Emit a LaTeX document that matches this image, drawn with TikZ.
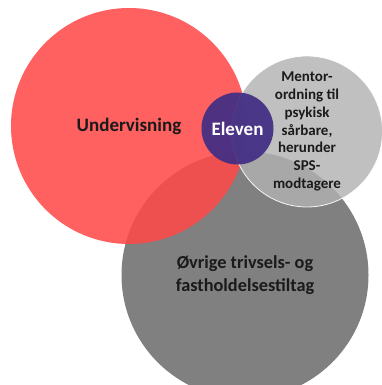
\documentclass[tikz,border=0pt]{standalone}
\usepackage{fontspec}
\setmainfont{Carlito}
\usepackage{xcolor}
\definecolor{colRed}{RGB}{255,72,72}
\definecolor{colDark}{RGB}{128,128,128}
\definecolor{colLight}{RGB}{178,178,178}
\definecolor{colPurple}{RGB}{66,46,132}
\definecolor{colText}{RGB}{26,26,26}
\usetikzlibrary{positioning}

\tikzset{
  bubble/.style={circle, inner sep=0pt, outer sep=0pt, align=center,
    text=colText, text opacity=1, font=\bfseries\fontsize{19}{23}\selectfont},
  smalltext/.style={font=\bfseries\fontsize{15}{17.9}\selectfont},
}

\begin{document}
\begin{tikzpicture}[x=1pt, y=-1pt]
    \useasboundingbox (0,0) rectangle (382,385);

    % === Store sirkler ===
    \node[bubble, fill=colDark, minimum size=247pt, font=\bfseries\fontsize{18.3}{23}\selectfont] (tiltag) at (245,275)
        {Øvrige trivsels- og\\fastholdelsestiltag};
    \node[bubble, fill=colRed, fill opacity=0.87, minimum size=236pt] (undervisning) at (129,126)
        {Undervisning};

    % === Mentorordning ===
    \node[bubble, smalltext, fill=colLight, fill opacity=0.82, draw=white, draw opacity=0.9,
          line width=0.8pt, minimum size=151pt] (mentor) at (307,131.5)
        {Mentor-\\ordning til\\psykisk\\sårbare,\\herunder\\SPS-\\modtagere};

    % === Eleven (midt) ===
    \node[bubble, fill=colPurple, fill opacity=0.93, text=white, minimum size=72pt] (eleven) at (237.5,128.5)
        {Eleven};
\end{tikzpicture}
\end{document}
